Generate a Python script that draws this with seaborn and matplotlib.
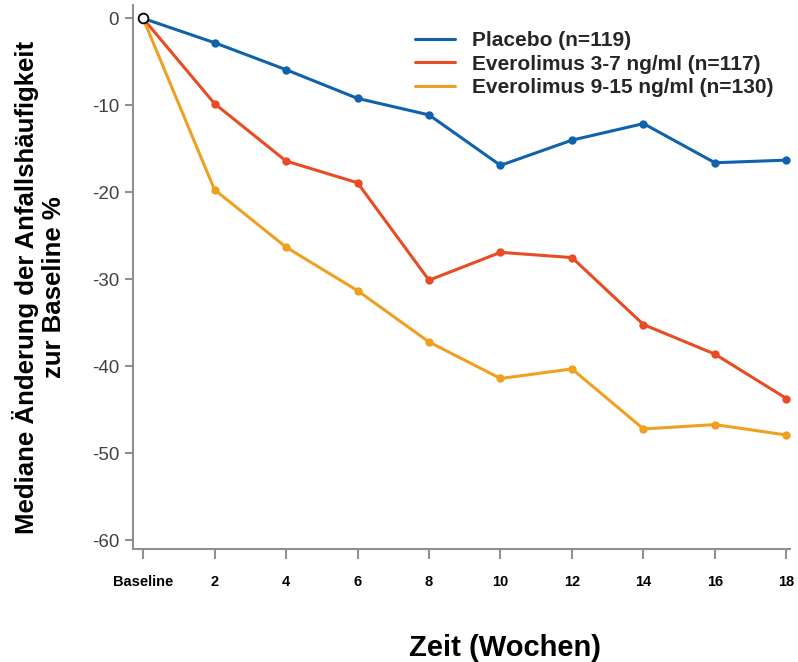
import matplotlib
matplotlib.use("Agg")
import matplotlib.pyplot as plt
import seaborn as sns
import pandas as pd
from matplotlib.lines import Line2D

weeks = [0, 2, 4, 6, 8, 10, 12, 14, 16, 18]
tick_labels = ["Baseline", "2", "4", "6", "8", "10", "12", "14", "16", "18"]
placebo = [0, -2.8, -5.9, -9.2, -11.1, -16.9, -14.0, -12.1, -16.6, -16.3]
evero_3_7 = [0, -9.8, -16.4, -18.9, -30.1, -26.9, -27.5, -35.2, -38.6, -43.7]
evero_9_15 = [0, -19.7, -26.3, -31.3, -37.2, -41.4, -40.3, -47.2, -46.7, -47.9]
series_names = ["Placebo (n=119)", "Everolimus 3-7 ng/ml (n=117)", "Everolimus 9-15 ng/ml (n=130)"]
colors = ["#0f62ab", "#e84c22", "#f0a020"]

rows = []
for name, vals in zip(series_names, [placebo, evero_3_7, evero_9_15]):
    for w, v in zip(weeks, vals):
        rows.append({"Woche": w, "Wert": v, "Gruppe": name})
df = pd.DataFrame(rows)

sns.set_theme(style="white")
plt.rcParams["font.family"] = ["Liberation Sans", "DejaVu Sans"]

fig = plt.figure(figsize=(7.98, 6.62), dpi=100)
ax = fig.add_axes([0.1667, 0.1707, 0.8233, 0.8213])

sns.lineplot(data=df, x="Woche", y="Wert", hue="Gruppe", hue_order=series_names,
             palette=colors, marker="o", markersize=6, markeredgewidth=0,
             linewidth=2.2, ax=ax, legend=False, zorder=3)

# baseline open circle
ax.plot([weeks[0]], [placebo[0]], marker="o", markersize=7, markerfacecolor="white",
        markeredgecolor="black", markeredgewidth=1.3, linestyle="none", zorder=5)

ax.set_xlim(-0.28, 18.1)
ax.set_ylim(-61, 1.5)
ax.set_xticks(weeks)
ax.set_xticklabels(tick_labels, fontsize=10.5, fontweight="bold", color="black")
ax.set_yticks([0, -10, -20, -30, -40, -50, -60])
ax.set_yticklabels(["0", "-10", "-20", "-30", "-40", "-50", "-60"], fontsize=13.5, color="#404040")

for s in ["top", "right"]:
    ax.spines[s].set_visible(False)
for s in ["left", "bottom"]:
    ax.spines[s].set_color("#909090")
    ax.spines[s].set_linewidth(1.5)
ax.tick_params(axis="both", which="both", direction="out", length=7, width=1.5,
               color="#909090", left=True, bottom=True)
ax.tick_params(axis="x", pad=12)
ax.tick_params(axis="y", pad=4, length=6)

ax.set_xlabel("")
ax.set_ylabel("")
fig.text(505 / 798, 1 - 648 / 662, "Zeit (Wochen)", fontsize=21, fontweight="bold",
         color="black", ha="center", va="center")
fig.text(39 / 798, 1 - 287 / 662, "Mediane Änderung der Anfallshäufigkeit\nzur Baseline %",
         fontsize=18.5, fontweight="bold", color="black", ha="center", va="center",
         rotation=90, linespacing=1.15)
ax.grid(False)

handles = [Line2D([0], [0], color=c, linewidth=2.2) for c in colors]
fig.legend(handles, series_names, loc="upper left", bbox_to_anchor=(415 / 798, 1 - 31 / 662),
           bbox_transform=fig.transFigure, frameon=False, prop={"weight": "bold", "size": 15},
           handlelength=1.9, handletextpad=0.85, labelspacing=0.22, borderpad=0,
           borderaxespad=0)

fig.savefig("out.png", dpi=100)
